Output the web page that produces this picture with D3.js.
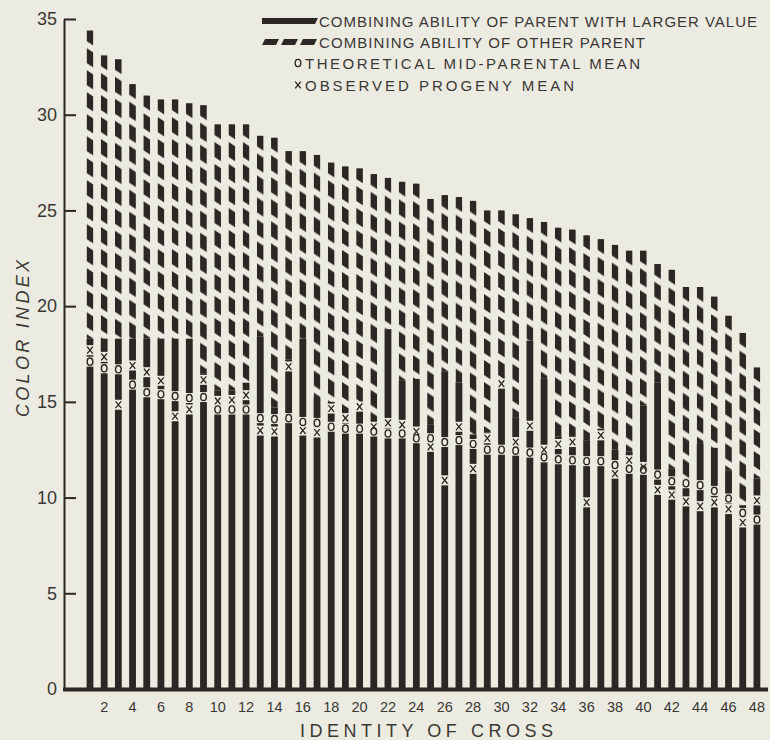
<!DOCTYPE html>
<html>
<head>
<meta charset="utf-8">
<script src="https://cdn.jsdelivr.net/npm/d3@7"></script>
<style>
  html, body { margin: 0; padding: 0; background: #ecebe1; }
  svg { display: block; }
  text { font-family: "Liberation Sans", "DejaVu Sans", sans-serif; }
</style>
</head>
<body>
<svg id="chart" width="770" height="740"></svg>
<script>
// --- Data ---
const crosses = d3.range(1, 49);

// combining ability of the parent with the larger value (solid part)
const largerParent = [
  18.3, 18.3, 18.3, 18.3, 18.3, 18.3, 18.3, 18.3, 16.5, 15.6, 15.6, 16.0,
  18.4, 14.7, 17.2, 18.3, 15.2, 15.0, 14.4, 15.0, 13.9, 18.8, 16.1, 16.2,
  13.8, 16.6, 16.0, 13.3, 13.4, 16.2, 14.2, 18.2, 16.2, 13.2, 13.2, 13.0,
  13.6, 12.5, 12.4, 14.8, 16.0, 11.5, 11.0, 12.8, 12.6, 11.4, 9.6, 11.0
];

// combining ability of the other parent (hatched part, stacked on top)
const otherParent = [
  16.1, 14.8, 14.6, 13.3, 12.7, 12.5, 12.5, 12.3, 14.0, 13.9, 13.9, 13.5,
  10.5, 14.1, 10.9, 9.8, 12.7, 12.5, 12.9, 12.2, 13.0, 7.9, 10.4, 10.2,
  11.8, 9.2, 9.7, 12.2, 11.6, 8.8, 10.6, 6.4, 8.2, 10.9, 10.8, 10.7,
  9.9, 10.7, 10.5, 8.1, 6.2, 10.4, 10.0, 8.2, 7.9, 8.1, 9.0, 5.8
];

// o  theoretical mid-parental mean
const midParent = [
  17.1, 16.75, 16.7, 15.9, 15.5, 15.4, 15.3, 15.2, 15.25, 14.6, 14.6, 14.6,
  14.15, 14.1, 14.15, 13.95, 13.9, 13.7, 13.6, 13.6, 13.45, 13.35, 13.35, 13.1,
  13.1, 12.9, 13.0, 12.8, 12.5, 12.5, 12.45, 12.35, 12.1, 12.0, 11.95, 11.9,
  11.9, 11.7, 11.5, 11.45, 11.2, 10.85, 10.75, 10.65, 10.35, 9.95, 9.2, 8.85
];

// x  observed progeny mean
const progenyMean = [
  17.7, 17.35, 14.85, 16.9, 16.55, 16.1, 14.25, 14.6, 16.15, 15.05, 15.1, 15.35,
  13.5, 13.45, 16.85, 13.5, 13.4, 14.65, 14.15, 14.75, 13.7, 13.9, 13.8, 13.45,
  12.65, 10.9, 13.7, 11.5, 13.1, 15.95, 12.9, 13.75, 12.5, 12.8, 12.9, 9.75,
  13.25, 11.25, 11.95, 11.6, 10.4, 10.15, 9.8, 9.55, 9.75, 9.4, 8.7, 9.85
];

const yTicks = [0, 5, 10, 15, 20, 25, 30, 35];
const xTickLabels = d3.range(2, 49, 2);

const legendItems = [
  { key: "larger", label: "COMBINING ABILITY OF PARENT WITH LARGER VALUE" },
  { key: "other", label: "COMBINING ABILITY OF OTHER PARENT" },
  { key: "mid", label: "THEORETICAL MID-PARENTAL MEAN" },
  { key: "obs", label: "OBSERVED PROGENY MEAN" }
];

// --- Setup ---
const BG = "#ecebe1";
const INK = "#2b2724";
const TXT = "#3a3835";

const svg = d3.select("#chart");
svg.append("rect").attr("width", 770).attr("height", 740).attr("fill", BG);

const rows = crosses.map((c, i) => ({
  cross: c,
  larger: largerParent[i],
  other: otherParent[i],
  mid: midParent[i],
  obs: progenyMean[i]
}));

const x = d3.scaleBand().domain(crosses).range([79.2, 767.7])
  .paddingInner(0.52).paddingOuter(0.52);
const y = d3.scaleLinear().domain([0, 35]).range([689, 19]);
const bw = x.bandwidth();

// hatch: one pattern per bar so every bar starts with a dash at its top
const defs = svg.append("defs");
const slant = bw * 0.65;
rows.forEach(d => {
  const p = defs.append("pattern")
    .attr("id", `hatch${d.cross}`)
    .attr("patternUnits", "userSpaceOnUse")
    .attr("x", x(d.cross)).attr("y", y(d.larger + d.other) - slant)
    .attr("width", x.step()).attr("height", 22);
  p.append("path")
    .attr("d", `M0,0L${bw},${slant}L${bw},${slant + 15}L0,15Z`)
    .attr("fill", INK);
});

// --- Bars ---
const gBars = svg.append("g");

gBars.selectAll("rect.larger")
  .data(rows).join("rect")
  .attr("class", "larger")
  .attr("x", d => x(d.cross))
  .attr("width", bw)
  .attr("y", d => y(d.larger))
  .attr("height", d => y(0) - y(d.larger))
  .attr("fill", INK);

gBars.selectAll("rect.other")
  .data(rows).join("rect")
  .attr("class", "other")
  .attr("x", d => x(d.cross))
  .attr("width", bw)
  .attr("y", d => y(d.larger + d.other))
  .attr("height", d => y(d.larger) - y(d.larger + d.other))
  .attr("fill", d => `url(#hatch${d.cross})`);

// --- Markers (knocked out of the bars) ---
const gMarks = svg.append("g");
const markerPts = rows.flatMap(d => [
  { cross: d.cross, v: d.mid, type: "mid" },
  { cross: d.cross, v: d.obs, type: "obs" }
]);

gMarks.selectAll("rect.knock")
  .data(markerPts).join("rect")
  .attr("class", "knock")
  .attr("x", d => x(d.cross) - 0.5)
  .attr("width", bw + 1)
  .attr("y", d => y(d.v) - 5)
  .attr("height", 10)
  .attr("fill", BG);

function drawMid(sel, cx, cy) {
  sel.append("ellipse")
    .attr("cx", cx).attr("cy", cy)
    .attr("rx", 2.8).attr("ry", 3.6)
    .attr("fill", "none").attr("stroke", INK).attr("stroke-width", 1.4);
}
function drawObs(sel, cx, cy) {
  sel.append("path")
    .attr("d", `M${cx - 2.8},${cy - 3.4}L${cx + 2.8},${cy + 3.4}M${cx + 2.8},${cy - 3.4}L${cx - 2.8},${cy + 3.4}`)
    .attr("stroke", INK).attr("stroke-width", 1.3).attr("fill", "none");
}

markerPts.forEach(d => {
  const cx = x(d.cross) + bw / 2;
  const cy = y(d.v);
  if (d.type === "mid") drawMid(gMarks, cx, cy);
  else drawObs(gMarks, cx, cy);
});

// --- Axes ---
const yAxis = d3.axisLeft(y)
  .tickValues(yTicks)
  .tickSizeInner(-12)
  .tickSizeOuter(0)
  .tickPadding(7);

const gy = svg.append("g").attr("transform", "translate(64,0)").call(yAxis);
gy.select(".domain").attr("stroke", INK).attr("stroke-width", 2);
gy.selectAll(".tick line").attr("stroke", INK).attr("stroke-width", 2);
gy.selectAll(".tick text")
  .attr("fill", TXT)
  .attr("font-size", 18)
  .attr("font-family", "Liberation Sans, sans-serif");

svg.append("line")
  .attr("x1", 63).attr("x2", 768)
  .attr("y1", y(0) + 0.5).attr("y2", y(0) + 0.5)
  .attr("stroke", INK).attr("stroke-width", 4);

const xAxis = d3.axisBottom(x)
  .tickValues(xTickLabels)
  .tickSize(0)
  .tickPadding(13);

const gx = svg.append("g").attr("transform", `translate(0,${y(0)})`).call(xAxis);
gx.select(".domain").remove();
gx.selectAll(".tick text")
  .attr("fill", TXT)
  .attr("font-size", 14.5)
  .attr("font-family", "Liberation Sans, sans-serif");

// axis titles
svg.append("text")
  .attr("x", 300).attr("y", 737)
  .attr("textLength", 253).attr("lengthAdjust", "spacing")
  .attr("font-size", 18).attr("fill", TXT)
  .text("IDENTITY OF CROSS");

svg.append("text")
  .attr("transform", "translate(29,417) rotate(-90)")
  .attr("textLength", 157).attr("lengthAdjust", "spacing")
  .attr("font-size", 18).attr("font-style", "italic").attr("fill", TXT)
  .text("COLOR INDEX");

// --- Legend ---
const gLeg = svg.append("g");
const legRows = [
  { y: 21, textX: 319, width: 438 },
  { y: 42, textX: 319, width: 326 },
  { y: 63, textX: 305, width: 335 },
  { y: 85, textX: 305, width: 269 }
];

legendItems.forEach((item, i) => {
  const r = legRows[i];
  if (item.key === "larger") {
    gLeg.append("path")
      .attr("d", `M262,${r.y - 3}L318,${r.y - 3}L315,${r.y + 3}L262,${r.y + 3}Z`)
      .attr("fill", INK);
  } else if (item.key === "other") {
    [0, 1, 2].forEach(k => {
      const x0 = 262 + k * 19;
      gLeg.append("path")
        .attr("d", `M${x0 + 3},${r.y - 3}L${x0 + 17},${r.y - 3}L${x0 + 14},${r.y + 3}L${x0},${r.y + 3}Z`)
        .attr("fill", INK);
    });
  } else if (item.key === "mid") {
    drawMid(gLeg, 298, r.y);
  } else {
    drawObs(gLeg, 298, r.y);
  }
  gLeg.append("text")
    .attr("x", r.textX).attr("y", r.y + 5.5)
    .attr("textLength", r.width).attr("lengthAdjust", "spacing")
    .attr("font-size", 15).attr("fill", TXT)
    .text(item.label);
});
</script>
</body>
</html>
